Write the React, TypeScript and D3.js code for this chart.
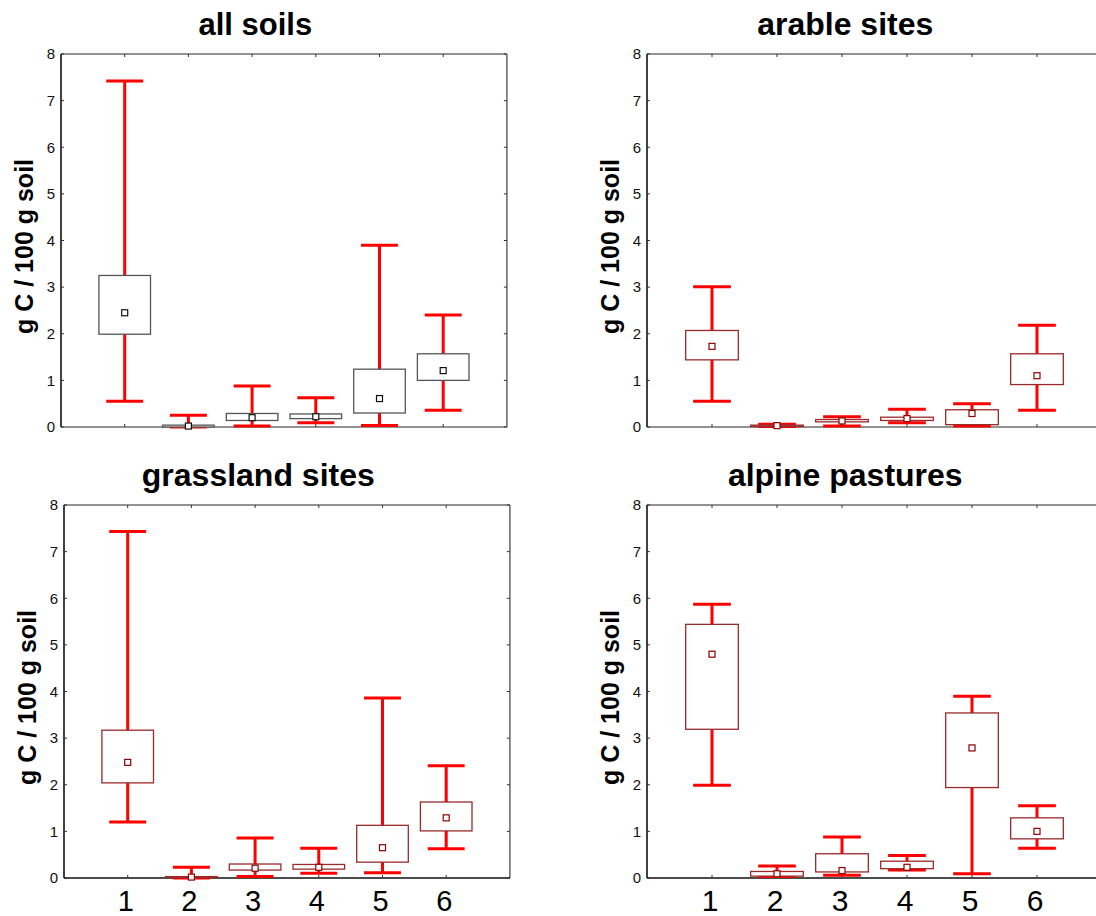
import React from "react";
import * as d3 from "d3";

// each row: [whisker low, box low, mean, box high, whisker high]
const categories = ["1", "2", "3", "4", "5", "6"];
const yTicks = [0, 1, 2, 3, 4, 5, 6, 7, 8];

const allSoils = [
  [0.55, 1.99, 2.45, 3.25, 7.42],
  [0.0, 0.0, 0.02, 0.04, 0.25],
  [0.02, 0.14, 0.2, 0.29, 0.88],
  [0.09, 0.18, 0.22, 0.28, 0.63],
  [0.03, 0.3, 0.61, 1.24, 3.9],
  [0.36, 1.0, 1.21, 1.57, 2.4],
];

const arableSites = [
  [0.55, 1.44, 1.73, 2.07, 3.01],
  [0.01, 0.01, 0.03, 0.04, 0.06],
  [0.02, 0.11, 0.13, 0.16, 0.22],
  [0.09, 0.14, 0.18, 0.21, 0.38],
  [0.02, 0.05, 0.29, 0.37, 0.5],
  [0.36, 0.91, 1.1, 1.57, 2.18],
];

const grasslandSites = [
  [1.2, 2.04, 2.48, 3.17, 7.43],
  [0.0, 0.01, 0.02, 0.03, 0.23],
  [0.03, 0.17, 0.21, 0.3, 0.86],
  [0.1, 0.19, 0.23, 0.29, 0.64],
  [0.11, 0.34, 0.65, 1.13, 3.86],
  [0.63, 1.01, 1.29, 1.63, 2.41],
];

const alpinePastures = [
  [1.99, 3.19, 4.8, 5.44, 5.87],
  [0.03, 0.04, 0.09, 0.14, 0.26],
  [0.06, 0.13, 0.16, 0.52, 0.88],
  [0.17, 0.2, 0.23, 0.36, 0.48],
  [0.09, 1.94, 2.79, 3.54, 3.9],
  [0.64, 0.84, 1.0, 1.29, 1.55],
];

const FONT = "'Liberation Sans', Arial, Helvetica, sans-serif";

type Stat = number[];

interface PanelProps {
  title: string;
  data: Stat[];
  left: number;
  top: number;
  step: number;
  titleSize: number;
  labelSize: number;
  showX: boolean;
  boxColor: string;
  meanColor: string;
  bottomColor: string;
}

function Panel(p: PanelProps) {
  const height = 373;
  const bottom = p.top + height;
  const right = p.left + p.step * 7;

  const y = d3.scaleLinear().domain([0, 8]).range([bottom, p.top]);
  const x = d3.scaleLinear().domain([0, 7]).range([p.left, right]);

  const boxW = p.step * 0.81;
  const capW = p.step * 0.58;
  const frame = "#6e6e6e";

  return (
    <g fontFamily={FONT}>
      <text
        x={p.left + p.step * 3.05}
        y={p.top - 19}
        textAnchor="middle"
        fontSize={p.titleSize}
        fontWeight="bold"
        fill="#000"
      >
        {p.title}
      </text>

      <text
        transform={`translate(${p.left - 28},${(p.top + bottom) / 2 + 6}) rotate(-90)`}
        textAnchor="middle"
        fontSize={25}
        fontWeight="bold"
        fill="#000"
      >
        g C / 100 g soil
      </text>

      {/* frame */}
      <line x1={p.left} x2={right} y1={p.top} y2={p.top} stroke={frame} strokeWidth={1.6} />
      <line x1={right} x2={right} y1={p.top} y2={bottom} stroke={frame} strokeWidth={1.6} />
      <line x1={p.left} x2={right} y1={bottom} y2={bottom} stroke={p.bottomColor} strokeWidth={1.6} />
      <line x1={p.left} x2={p.left} y1={p.top} y2={bottom} stroke="#111" strokeWidth={1.6} />

      {yTicks.map((t) => (
        <g key={"y" + t}>
          <line x1={p.left} x2={p.left + 3} y1={y(t)} y2={y(t)} stroke="#333" strokeWidth={1} />
          <line x1={right} x2={right - 3} y1={y(t)} y2={y(t)} stroke="#333" strokeWidth={1} />
          <text
            x={p.left - 6}
            y={y(t)}
            dy="0.35em"
            textAnchor="end"
            fontSize={15}
            fill="#111"
          >
            {t}
          </text>
        </g>
      ))}

      {categories.map((c, i) => (
        <g key={"x" + c}>
          <line x1={x(i + 1)} x2={x(i + 1)} y1={p.top} y2={p.top + 3} stroke="#333" strokeWidth={1} />
          <line x1={x(i + 1)} x2={x(i + 1)} y1={bottom} y2={bottom - 3} stroke="#333" strokeWidth={1} />
          {p.showX && (
            <text x={x(i + 1) - 2} y={911} textAnchor="middle" fontSize={p.labelSize} fill="#000">
              {c}
            </text>
          )}
        </g>
      ))}

      {p.data.map((d, i) => {
        const cx = x(i + 1);
        const [lo, q1, mean, q3, hi] = d;
        return (
          <g key={"b" + i}>
            <line x1={cx} x2={cx} y1={y(lo)} y2={y(hi)} stroke="#ff0000" strokeWidth={3} />
            <line x1={cx - capW / 2} x2={cx + capW / 2} y1={y(hi)} y2={y(hi)} stroke="#ff0000" strokeWidth={3} />
            <line x1={cx - capW / 2} x2={cx + capW / 2} y1={y(lo)} y2={y(lo)} stroke="#ff0000" strokeWidth={3} />
            <rect
              x={cx - boxW / 2}
              y={y(q3)}
              width={boxW}
              height={Math.max(y(q1) - y(q3), 0.5)}
              fill="#fff"
              stroke={p.boxColor}
              strokeWidth={1.3}
            />
            <rect
              x={cx - 3}
              y={y(mean) - 3}
              width={6}
              height={6}
              fill="#fff"
              stroke={p.meanColor}
              strokeWidth={1.2}
            />
          </g>
        );
      })}
    </g>
  );
}

export default function App() {
  return (
    <svg
      width={1096}
      height={916}
      style={{ position: "absolute", left: 0, top: 0, background: "#fff" }}
    >
      <rect width={1096} height={916} fill="#fff" />
      <Panel
        title="all soils"
        data={allSoils}
        left={61}
        top={54}
        step={63.7}
        titleSize={31}
        labelSize={29}
        showX={false}
        boxColor="#555"
        meanColor="#111"
        bottomColor="#6e6e6e"
      />
      <Panel
        title="arable sites"
        data={arableSites}
        left={647}
        top={54}
        step={65}
        titleSize={32}
        labelSize={30}
        showX={false}
        boxColor="#9a2a2a"
        meanColor="#8b0000"
        bottomColor="#6e6e6e"
      />
      <Panel
        title="grassland sites"
        data={grasslandSites}
        left={64}
        top={505}
        step={63.7}
        titleSize={32}
        labelSize={29}
        showX={true}
        boxColor="#9a2a2a"
        meanColor="#8b0000"
        bottomColor="#111"
      />
      <Panel
        title="alpine pastures"
        data={alpinePastures}
        left={647}
        top={505}
        step={65}
        titleSize={32}
        labelSize={30}
        showX={true}
        boxColor="#9a2a2a"
        meanColor="#8b0000"
        bottomColor="#111"
      />
    </svg>
  );
}
